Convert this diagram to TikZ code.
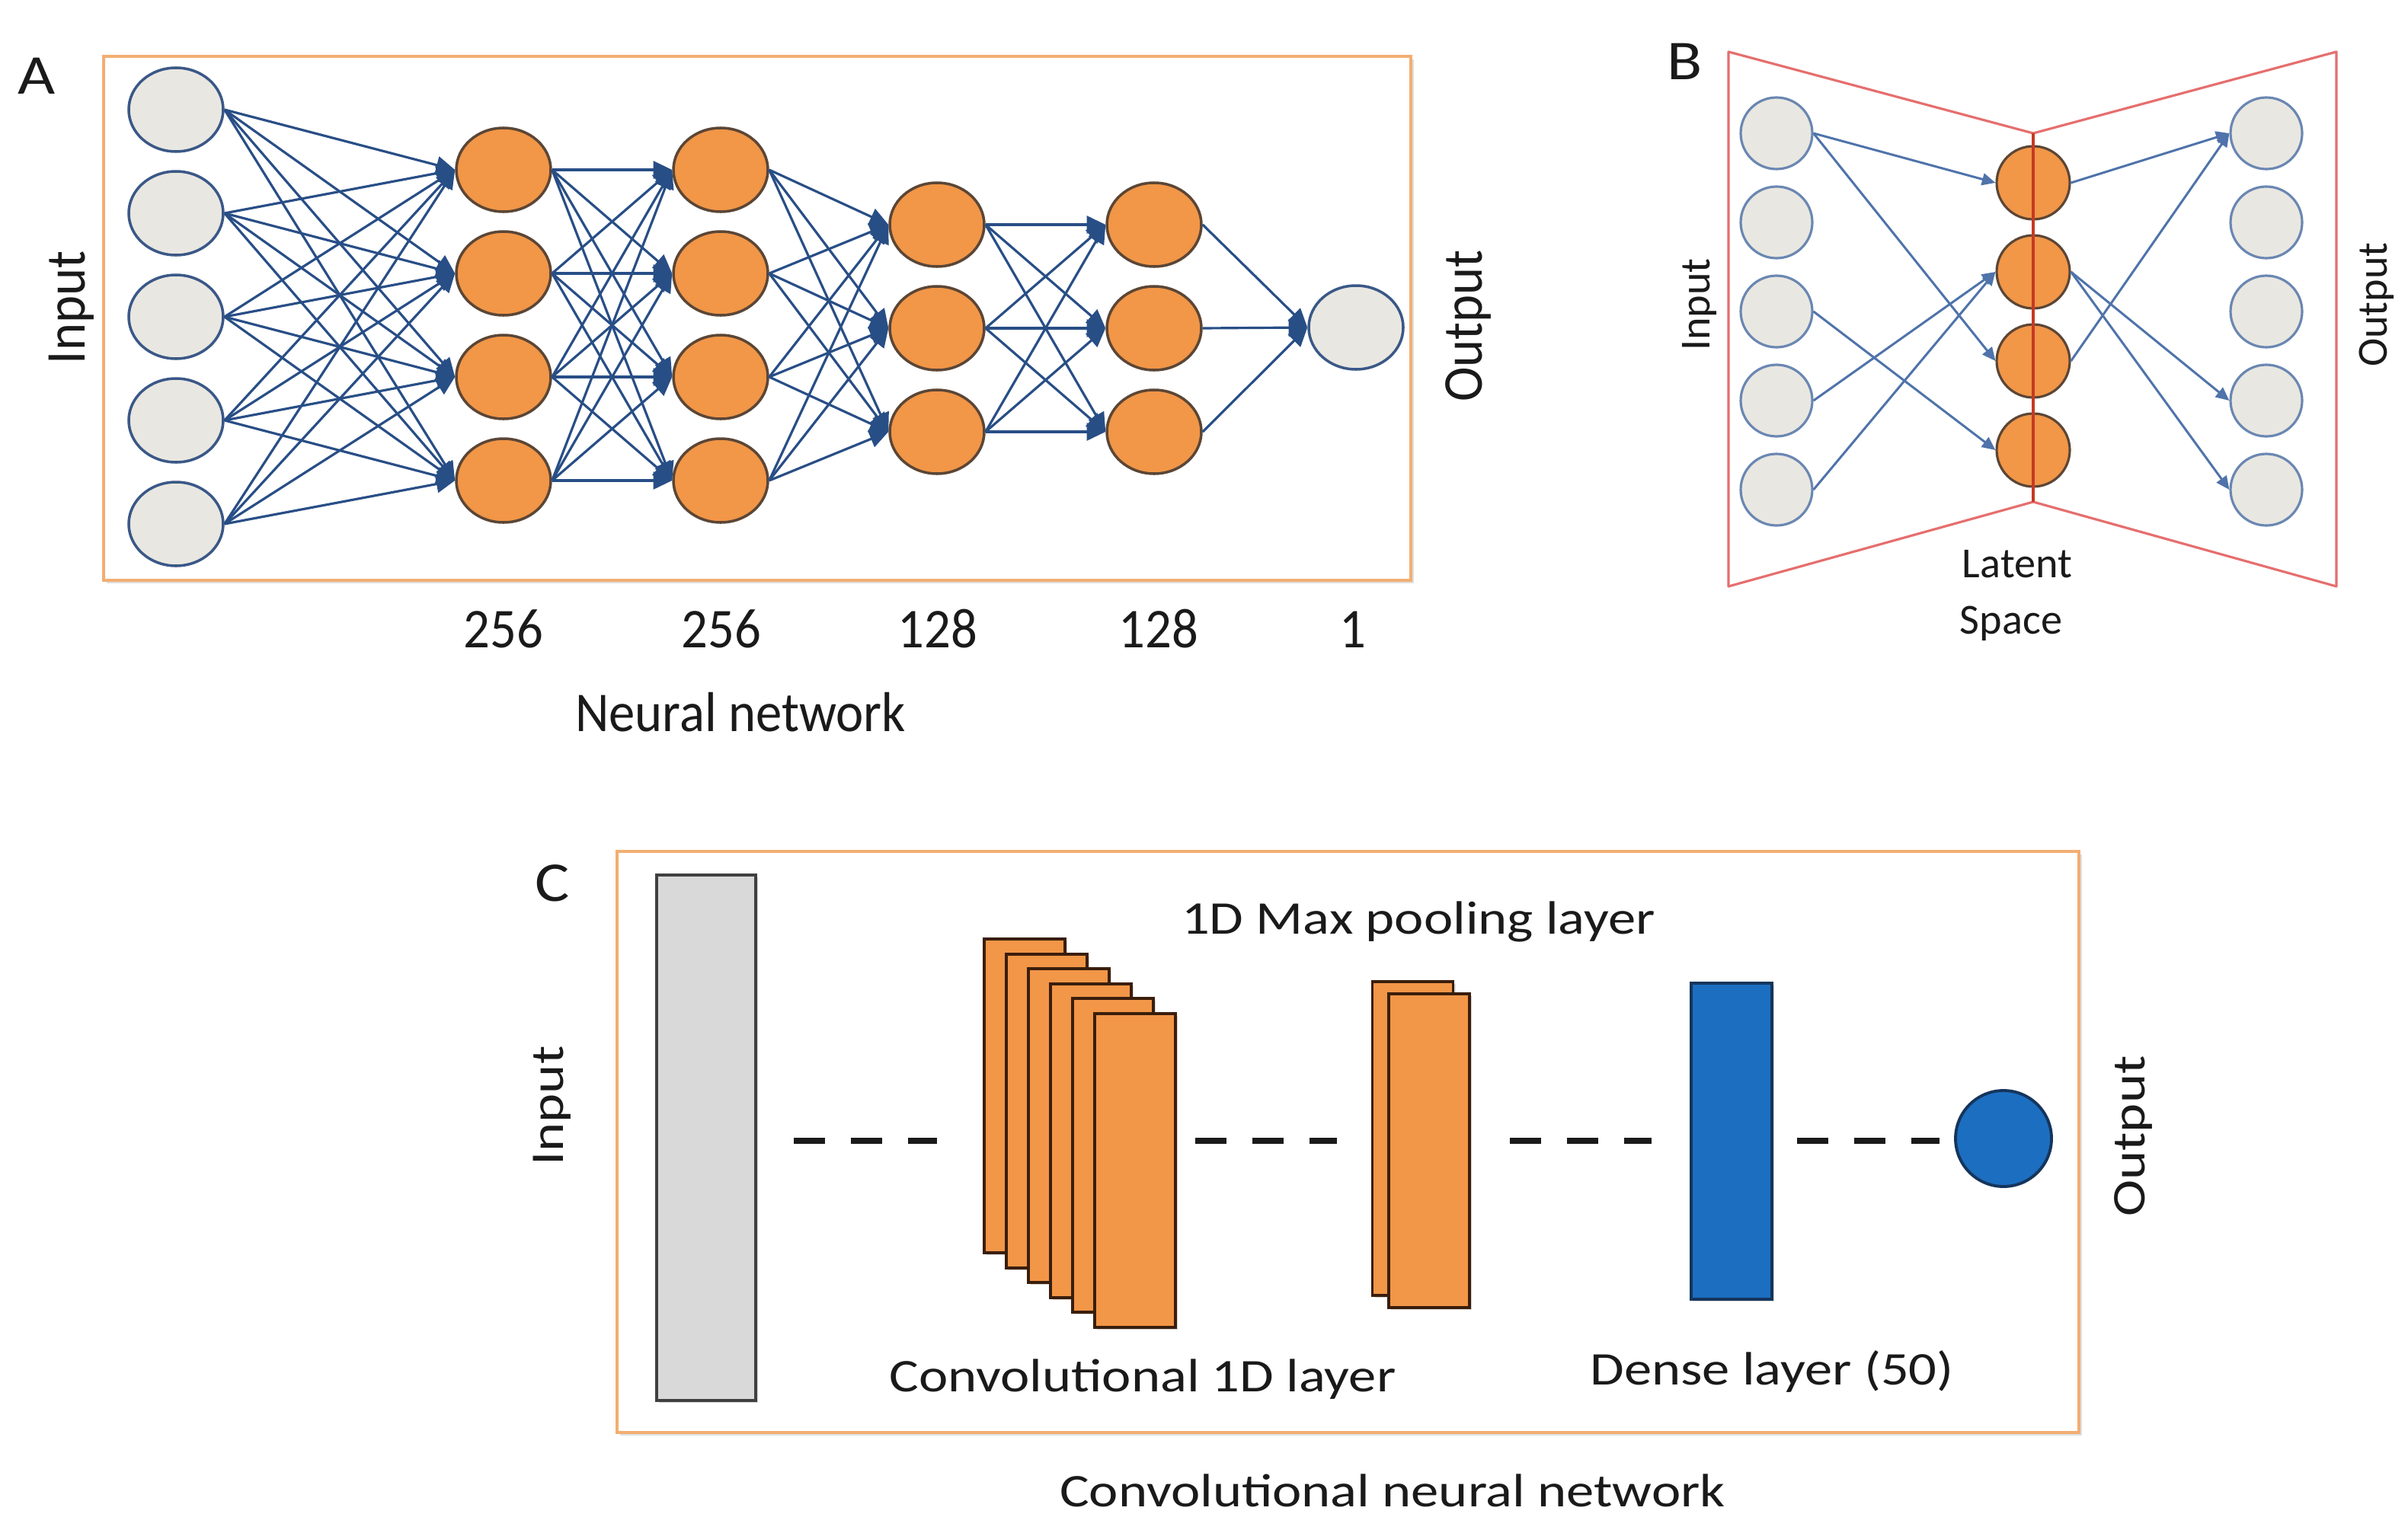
\documentclass[tikz,border=0pt]{standalone}
\usepackage{fontspec}
\usepackage{tikz}
\usetikzlibrary{shapes, arrows.meta, shadows}
\usepackage{xcolor}

\newfontfamily\fontA{Carlito}[FakeStretch=0.93]
\newfontfamily\fontB{Carlito}
\newfontfamily\fontC{Carlito}[FakeStretch=1.18]
\newfontfamily\fontL{Carlito}[FakeStretch=1.15]

\definecolor{frameorange}{HTML}{F2AE72}
\definecolor{nodeorange}{HTML}{F29647}
\definecolor{orangeline}{HTML}{5B4636}
\definecolor{ingray}{HTML}{E9E7E1}
\definecolor{inblue}{HTML}{3A5887}
\definecolor{inblueB}{HTML}{6A87B2}
\definecolor{arrowblue}{HTML}{284E86}
\definecolor{arrowblueB}{HTML}{4F73AA}
\definecolor{trapred}{HTML}{E66E6E}
\definecolor{latred}{HTML}{C63A22}
\definecolor{convline}{HTML}{3A1E0C}
\definecolor{rectgray}{HTML}{D9D9D9}
\definecolor{densefill}{HTML}{1C6EC0}
\definecolor{denseline}{HTML}{15355C}
\definecolor{txtcol}{HTML}{1A1A1A}

\begin{document}
\begin{tikzpicture}[node distance={13.6mm}, thick,
    innode/.style={draw=inblue, fill=ingray, ellipse, inner sep=0pt, line width=1pt, minimum width=12.4mm, minimum height=11mm},
    hidnode/.style={draw=orangeline, fill=nodeorange, ellipse, inner sep=0pt, line width=1pt, minimum width=12.4mm, minimum height=11mm},
    bnode/.style={draw=inblueB, fill=ingray, circle, inner sep=0pt, line width=0.9pt, minimum size=9.4mm},
    latnode/.style={draw=orangeline, fill=nodeorange, circle, inner sep=0pt, line width=0.9pt, minimum size=9.6mm},
    arrA/.style={-{Triangle[length=7pt, width=6.5pt]}, draw=arrowblue, line width=0.9pt},
    arrB/.style={-{Triangle[length=5pt, width=4.5pt]}, draw=arrowblueB, line width=0.85pt},
    frame/.style={draw=frameorange, fill=white, line width=1.2pt, drop shadow={shadow xshift=0.04cm, shadow yshift=-0.04cm, opacity=0.25}},
    convrect/.style={draw=convline, fill=nodeorange, line width=1.1pt, inner sep=0pt, minimum width=10.6mm, minimum height=41.2mm, drop shadow={shadow xshift=0.03cm, shadow yshift=-0.03cm, opacity=0.3}},
    inrect/.style={draw=black!75, fill=rectgray, line width=1.1pt, inner sep=0pt, minimum width=13mm, minimum height=69mm, drop shadow={shadow xshift=0.03cm, shadow yshift=-0.03cm, opacity=0.3}},
    denserect/.style={draw=denseline, fill=densefill, line width=1.1pt, inner sep=0pt, minimum width=10.6mm, minimum height=41.5mm, drop shadow={shadow xshift=0.03cm, shadow yshift=-0.03cm, opacity=0.3}},
    densedot/.style={draw=denseline, fill=densefill, circle, line width=1.1pt, inner sep=0pt, minimum size=12.6mm},
    dashline/.style={draw=txtcol, line width=2.3pt, dash pattern=on 0.41cm off 0.34cm},
    trap/.style={draw=trapred, line width=0.9pt, line join=round},
    latline/.style={draw=latred, line width=1pt},
    panel/.style={text=txtcol, font=\fontL\fontsize{21}{24}\selectfont},
    txtA/.style={text=txtcol, font=\fontA\fontsize{21}{24}\selectfont},
    txtB/.style={text=txtcol, font=\fontB\fontsize{16}{19}\selectfont},
    txtC/.style={text=txtcol, font=\fontC\fontsize{17.5}{20}\selectfont}]
    \useasboundingbox (0,0) rectangle (31.61,-20.12);

    % A
    \draw[frame] (1.36,-0.74) rectangle (18.52,-7.62);
    \node[innode] (in1) at (2.31,-1.44) {};
    \node[innode] (in2) [below of=in1] {};
    \node[innode] (in3) [below of=in2] {};
    \node[innode] (in4) [below of=in3] {};
    \node[innode] (in5) [below of=in4] {};
    \node[hidnode] (ha1) at (6.61,-2.23) {};
    \node[hidnode] (ha2) [below of=ha1] {};
    \node[hidnode] (ha3) [below of=ha2] {};
    \node[hidnode] (ha4) [below of=ha3] {};
    \node[hidnode] (hb1) at (9.46,-2.23) {};
    \node[hidnode] (hb2) [below of=hb1] {};
    \node[hidnode] (hb3) [below of=hb2] {};
    \node[hidnode] (hb4) [below of=hb3] {};
    \node[hidnode] (hc1) at (12.30,-2.95) {};
    \node[hidnode] (hc2) [below of=hc1] {};
    \node[hidnode] (hc3) [below of=hc2] {};
    \node[hidnode] (hd1) at (15.15,-2.95) {};
    \node[hidnode] (hd2) [below of=hd1] {};
    \node[hidnode] (hd3) [below of=hd2] {};
    \node[innode] (outA) at (17.80,-4.30) {};
    \foreach \i in {1,...,5}
        \foreach \j in {1,...,4}
            \draw[arrA] (in\i.east) -- (ha\j.west);
    \foreach \i in {1,...,4}
        \foreach \j in {1,...,4}
            \draw[arrA] (ha\i.east) -- (hb\j.west);
    \foreach \i in {1,...,4}
        \foreach \j in {1,...,3}
            \draw[arrA] (hb\i.east) -- (hc\j.west);
    \foreach \i in {1,...,3}
        \foreach \j in {1,...,3}
            \draw[arrA] (hc\i.east) -- (hd\j.west);
    \foreach \i in {1,...,3}
        \draw[arrA] (hd\i.east) -- (outA.west);
    \node[panel] (labA) at (0.48,-1.00) {A};
    \node[txtA, rotate=90] (inputA) at (0.94,-4.04) {Input};
    \node[txtA, rotate=90] (outputA) at (19.27,-4.28) {Output};
    \node[txtA, anchor=base] (sizeA1) at (6.61,-8.50) {256};
    \node[txtA, anchor=base] (sizeA2) at (9.47,-8.50) {256};
    \node[txtA, anchor=base] (sizeA3) at (12.31,-8.50) {128};
    \node[txtA, anchor=base] (sizeA4) at (15.21,-8.50) {128};
    \node[txtA, anchor=base] (sizeA5) at (17.76,-8.50) {1};
    \node[txtA, anchor=base] (nameA) at (9.72,-9.60) {Neural network};

    % B
    \begin{scope}[node distance=11.7mm]
        \node[bnode] (bin1) at (23.32,-1.75) {};
        \node[bnode] (bin2) [below of=bin1] {};
        \node[bnode] (bin3) [below of=bin2] {};
        \node[bnode] (bin4) [below of=bin3] {};
        \node[bnode] (bin5) [below of=bin4] {};
        \node[latnode] (lat1) at (26.69,-2.40) {};
        \node[latnode] (lat2) [below of=lat1] {};
        \node[latnode] (lat3) [below of=lat2] {};
        \node[latnode] (lat4) [below of=lat3] {};
        \node[bnode] (bout1) at (29.75,-1.75) {};
        \node[bnode] (bout2) [below of=bout1] {};
        \node[bnode] (bout3) [below of=bout2] {};
        \node[bnode] (bout4) [below of=bout3] {};
        \node[bnode] (bout5) [below of=bout4] {};
    \end{scope}
    \draw[arrB] (bin1.east) -- (lat1.west);
    \draw[arrB] (bin1.east) -- (lat3.west);
    \draw[arrB] (bin3.east) -- (lat4.west);
    \draw[arrB] (bin4.east) -- (lat2.west);
    \draw[arrB] (bin5.east) -- (lat2.west);
    \draw[arrB] (lat1.east) -- (bout1.west);
    \draw[arrB] (lat3.east) -- (bout1.west);
    \draw[arrB] (lat2.east) -- (bout4.west);
    \draw[arrB] (lat2.east) -- (bout5.west);
    \draw[trap] (22.69,-0.68) -- (26.69,-1.75) -- (30.67,-0.68) -- (30.67,-7.70) -- (26.69,-6.59) -- (22.69,-7.70) -- cycle;
    \draw[latline] (26.69,-1.75) -- (26.69,-6.59);
    \node[panel] (labB) at (22.12,-0.81) {B};
    \node[txtB, rotate=90] (inputB) at (22.31,-4.00) {Input};
    \node[txtB, rotate=90] (outputB) at (31.20,-4.00) {Output};
    \node[txtB, anchor=base] (latB) at (26.48,-7.58) {Latent};
    \node[txtB, anchor=base] (spaceB) at (26.40,-8.32) {Space};

    % C
    \draw[frame] (8.10,-11.18) rectangle (27.29,-18.81);
    \coordinate (dashy) at (0,-14.98);
    \node[inrect] (cin) at (9.27,-14.94) {};
    \foreach \k in {1,...,6}
        \node[convrect] (conv\k) at ({13.45+0.29*(\k-1)}, {-14.39-0.196*(\k-1)}) {};
    \node[convrect] (pool1) at (18.545,-14.95) {};
    \node[convrect] (pool2) at (18.76,-15.11) {};
    \node[denserect] (dense) at (22.73,-14.985) {};
    \node[densedot] (cout) at (26.30,-14.95) {};
    \draw[dashline, shorten <=0.48cm, shorten >=0.60cm] (cin.east |- dashy) -- (conv1.west |- dashy);
    \draw[dashline, shorten <=0.24cm, shorten >=0.445cm] (conv6.east |- dashy) -- (pool1.west |- dashy);
    \draw[dashline, shorten <=0.51cm, shorten >=0.50cm] (pool2.east |- dashy) -- (dense.west |- dashy);
    \draw[dashline, shorten <=0.31cm, shorten >=0.19cm] (dense.east |- dashy) -- (cout.west |- dashy);
    \node[panel] (labC) at (7.25,-11.60) {C};
    \node[txtC, rotate=90] (inputC) at (7.25,-14.52) {Input};
    \node[txtC, rotate=90] (outputC) at (28.00,-14.92) {Output};
    \node[txtC, anchor=base] (poolC) at (18.62,-12.26) {1D Max pooling layer};
    \node[txtC, anchor=base] (convC) at (15.00,-18.27) {Convolutional 1D layer};
    \node[txtC, anchor=base] (denseC) at (23.26,-18.18) {Dense layer (50)};
    \node[txtC, anchor=base] (nameC) at (18.28,-19.78) {Convolutional neural network};
\end{tikzpicture}
\end{document}
